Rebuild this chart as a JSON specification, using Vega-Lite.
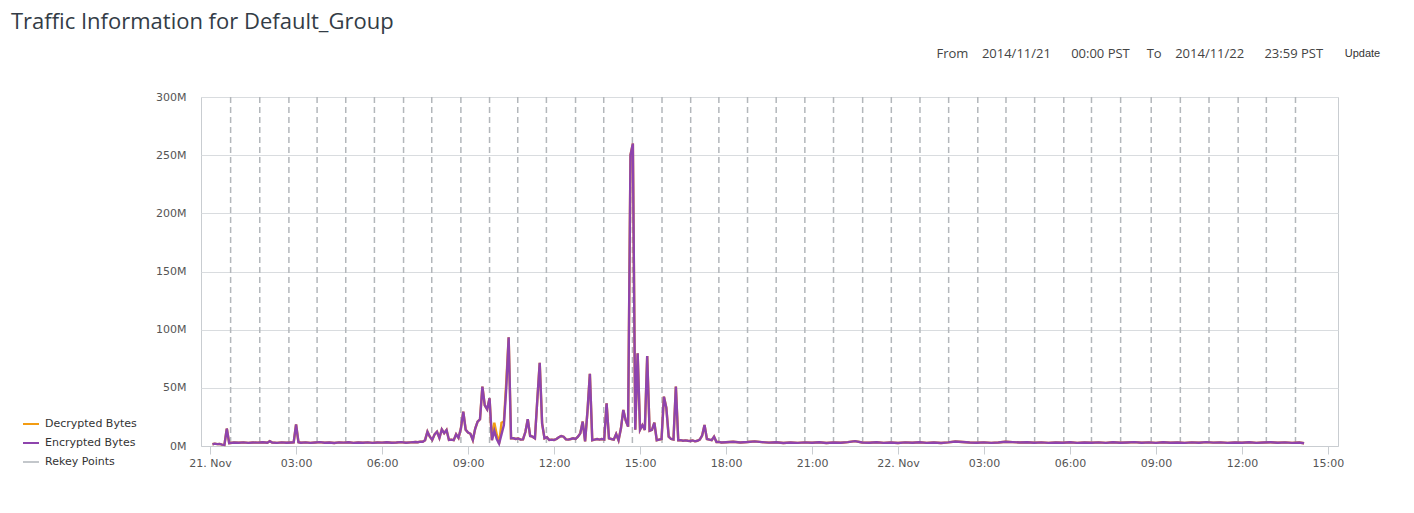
{
  "$schema": "https://vega.github.io/schema/vega-lite/v6.json",
  "width": 1137,
  "height": 349,
  "autosize": {"type": "none"},
  "padding": {"left": 201, "top": 97, "right": 76, "bottom": 67},
  "background": "white",
  "title": {
    "text": "Traffic Information for Default_Group",
    "anchor": "start",
    "frame": "group",
    "dx": -190,
    "offset": 13,
    "font": "Open Sans",
    "fontSize": 22,
    "fontWeight": "normal",
    "color": "#333c46"
  },
  "config": {
    "view": {"stroke": "#c9cdd1", "strokeWidth": 1},
    "axis": {"labelFont": "DejaVu Sans", "labelFontSize": 11, "labelColor": "#555555"}
  },
  "layer": [
    {
      "data": {
        "values": [
          {"t": "2014-11-21T00:43"}, {"t": "2014-11-21T01:44"}, {"t": "2014-11-21T02:45"}, {"t": "2014-11-21T03:44"},
          {"t": "2014-11-21T04:44"}, {"t": "2014-11-21T05:44"}, {"t": "2014-11-21T06:45"}, {"t": "2014-11-21T07:44"},
          {"t": "2014-11-21T08:45"}, {"t": "2014-11-21T09:45"}, {"t": "2014-11-21T10:44"}, {"t": "2014-11-21T11:44"},
          {"t": "2014-11-21T12:45"}, {"t": "2014-11-21T13:44"}, {"t": "2014-11-21T14:44"}, {"t": "2014-11-21T15:46"},
          {"t": "2014-11-21T16:46"}, {"t": "2014-11-21T17:45"}, {"t": "2014-11-21T18:45"}, {"t": "2014-11-21T19:45"},
          {"t": "2014-11-21T20:45"}, {"t": "2014-11-21T21:45"}, {"t": "2014-11-21T22:46"}, {"t": "2014-11-21T23:46"},
          {"t": "2014-11-22T00:46"}, {"t": "2014-11-22T01:46"}, {"t": "2014-11-22T02:47"}, {"t": "2014-11-22T03:46"},
          {"t": "2014-11-22T04:46"}, {"t": "2014-11-22T05:47"}, {"t": "2014-11-22T06:45"}, {"t": "2014-11-22T07:46"},
          {"t": "2014-11-22T08:50"}, {"t": "2014-11-22T09:51"}, {"t": "2014-11-22T10:51"}, {"t": "2014-11-22T11:52"},
          {"t": "2014-11-22T12:51"}, {"t": "2014-11-22T13:52"}
        ]
      },
      "mark": {"type": "rule", "strokeDash": [6, 4], "strokeWidth": 1.5, "color": "#b3b7bb"},
      "encoding": {
        "x": {"field": "t", "type": "temporal"}
      }
    },
    {
      "data": {
        "values": [
          {"t": "2014-11-21T00:05", "e": 1.5, "d": 1.5}, {"t": "2014-11-21T00:10", "e": 2.0, "d": 2.0},
          {"t": "2014-11-21T00:15", "e": 1.6, "d": 1.6}, {"t": "2014-11-21T00:20", "e": 1.8, "d": 1.8},
          {"t": "2014-11-21T00:25", "e": 1.2, "d": 1.2}, {"t": "2014-11-21T00:30", "e": 1.0, "d": 1.0},
          {"t": "2014-11-21T00:35", "e": 15, "d": 15}, {"t": "2014-11-21T00:40", "e": 2.5, "d": 2.5},
          {"t": "2014-11-21T00:50", "e": 3.0, "d": 3.0}, {"t": "2014-11-21T01:00", "e": 2.8, "d": 2.8},
          {"t": "2014-11-21T01:10", "e": 3.1, "d": 3.1}, {"t": "2014-11-21T01:20", "e": 2.7, "d": 2.7},
          {"t": "2014-11-21T01:30", "e": 3.0, "d": 3.0}, {"t": "2014-11-21T01:40", "e": 2.9, "d": 2.9},
          {"t": "2014-11-21T01:50", "e": 3.2, "d": 3.2}, {"t": "2014-11-21T02:00", "e": 2.8, "d": 2.8},
          {"t": "2014-11-21T02:05", "e": 4.2, "d": 4.2}, {"t": "2014-11-21T02:10", "e": 3.0, "d": 3.0},
          {"t": "2014-11-21T02:20", "e": 2.7, "d": 2.7}, {"t": "2014-11-21T02:30", "e": 3.1, "d": 3.1},
          {"t": "2014-11-21T02:40", "e": 2.8, "d": 2.8}, {"t": "2014-11-21T02:50", "e": 3.0, "d": 3.0},
          {"t": "2014-11-21T02:55", "e": 3.1, "d": 3.1}, {"t": "2014-11-21T03:00", "e": 18.5, "d": 18.5},
          {"t": "2014-11-21T03:05", "e": 3.2, "d": 3.2}, {"t": "2014-11-21T03:10", "e": 2.8, "d": 2.8},
          {"t": "2014-11-21T03:20", "e": 3.1, "d": 3.1}, {"t": "2014-11-21T03:30", "e": 2.7, "d": 2.7},
          {"t": "2014-11-21T03:40", "e": 3.0, "d": 3.0}, {"t": "2014-11-21T03:50", "e": 3.3, "d": 3.3},
          {"t": "2014-11-21T04:00", "e": 2.8, "d": 2.8}, {"t": "2014-11-21T04:10", "e": 3.0, "d": 3.0},
          {"t": "2014-11-21T04:20", "e": 2.6, "d": 2.6}, {"t": "2014-11-21T04:30", "e": 3.1, "d": 3.1},
          {"t": "2014-11-21T04:40", "e": 2.9, "d": 2.9}, {"t": "2014-11-21T04:50", "e": 3.2, "d": 3.2},
          {"t": "2014-11-21T05:00", "e": 2.7, "d": 2.7}, {"t": "2014-11-21T05:10", "e": 3.0, "d": 3.0},
          {"t": "2014-11-21T05:20", "e": 2.8, "d": 2.8}, {"t": "2014-11-21T05:30", "e": 3.1, "d": 3.1},
          {"t": "2014-11-21T05:40", "e": 2.7, "d": 2.7}, {"t": "2014-11-21T05:50", "e": 3.0, "d": 3.0},
          {"t": "2014-11-21T06:00", "e": 2.9, "d": 2.9}, {"t": "2014-11-21T06:10", "e": 3.2, "d": 3.2},
          {"t": "2014-11-21T06:20", "e": 2.8, "d": 2.8}, {"t": "2014-11-21T06:30", "e": 3.0, "d": 3.0},
          {"t": "2014-11-21T06:40", "e": 3.3, "d": 3.3}, {"t": "2014-11-21T06:50", "e": 2.8, "d": 2.8},
          {"t": "2014-11-21T07:00", "e": 3.1, "d": 3.1}, {"t": "2014-11-21T07:10", "e": 3.4, "d": 3.4},
          {"t": "2014-11-21T07:15", "e": 3.2, "d": 3.2}, {"t": "2014-11-21T07:20", "e": 3.7, "d": 3.7},
          {"t": "2014-11-21T07:25", "e": 3.7, "d": 3.7}, {"t": "2014-11-21T07:30", "e": 5, "d": 5},
          {"t": "2014-11-21T07:35", "e": 12.3, "d": 12.3}, {"t": "2014-11-21T07:40", "e": 8, "d": 8},
          {"t": "2014-11-21T07:45", "e": 5.2, "d": 5.2}, {"t": "2014-11-21T07:50", "e": 10, "d": 10},
          {"t": "2014-11-21T07:55", "e": 12.3, "d": 12.3}, {"t": "2014-11-21T08:00", "e": 6.9, "d": 6.9},
          {"t": "2014-11-21T08:05", "e": 14.3, "d": 14.3}, {"t": "2014-11-21T08:10", "e": 11, "d": 11},
          {"t": "2014-11-21T08:15", "e": 13.8, "d": 13.8}, {"t": "2014-11-21T08:20", "e": 5.2, "d": 5.2},
          {"t": "2014-11-21T08:25", "e": 5.5, "d": 5.5}, {"t": "2014-11-21T08:30", "e": 5, "d": 5},
          {"t": "2014-11-21T08:35", "e": 10, "d": 10}, {"t": "2014-11-21T08:40", "e": 7, "d": 7},
          {"t": "2014-11-21T08:45", "e": 15, "d": 15}, {"t": "2014-11-21T08:50", "e": 29.5, "d": 29.5},
          {"t": "2014-11-21T08:55", "e": 14, "d": 14}, {"t": "2014-11-21T09:00", "e": 11.5, "d": 11.5},
          {"t": "2014-11-21T09:05", "e": 10.5, "d": 10.5}, {"t": "2014-11-21T09:10", "e": 5.2, "d": 5.2},
          {"t": "2014-11-21T09:15", "e": 15, "d": 15}, {"t": "2014-11-21T09:20", "e": 21, "d": 21},
          {"t": "2014-11-21T09:25", "e": 23, "d": 23}, {"t": "2014-11-21T09:30", "e": 51, "d": 51},
          {"t": "2014-11-21T09:35", "e": 35, "d": 35}, {"t": "2014-11-21T09:40", "e": 31.5, "d": 31.5},
          {"t": "2014-11-21T09:45", "e": 41, "d": 41}, {"t": "2014-11-21T09:50", "e": 5, "d": 5},
          {"t": "2014-11-21T09:55", "e": 13, "d": 20}, {"t": "2014-11-21T10:00", "e": 6, "d": 10},
          {"t": "2014-11-21T10:05", "e": 2, "d": 2}, {"t": "2014-11-21T10:10", "e": 10, "d": 20},
          {"t": "2014-11-21T10:15", "e": 18, "d": 21}, {"t": "2014-11-21T10:20", "e": 50, "d": 55},
          {"t": "2014-11-21T10:25", "e": 93.5, "d": 93.5}, {"t": "2014-11-21T10:30", "e": 6.6, "d": 6.6},
          {"t": "2014-11-21T10:35", "e": 6.6, "d": 6.6}, {"t": "2014-11-21T10:40", "e": 6, "d": 6},
          {"t": "2014-11-21T10:45", "e": 6.5, "d": 6.5}, {"t": "2014-11-21T10:50", "e": 5.5, "d": 5.5},
          {"t": "2014-11-21T10:55", "e": 5.7, "d": 5.7}, {"t": "2014-11-21T11:00", "e": 12, "d": 12},
          {"t": "2014-11-21T11:05", "e": 23, "d": 23}, {"t": "2014-11-21T11:10", "e": 8.6, "d": 8.6},
          {"t": "2014-11-21T11:15", "e": 8, "d": 8}, {"t": "2014-11-21T11:20", "e": 6.6, "d": 6.6},
          {"t": "2014-11-21T11:25", "e": 40, "d": 40}, {"t": "2014-11-21T11:30", "e": 71.6, "d": 71.6},
          {"t": "2014-11-21T11:35", "e": 19.5, "d": 19.5}, {"t": "2014-11-21T11:40", "e": 6.6, "d": 6.6},
          {"t": "2014-11-21T11:45", "e": 7.5, "d": 7.5}, {"t": "2014-11-21T11:50", "e": 5.2, "d": 5.2},
          {"t": "2014-11-21T11:55", "e": 5.5, "d": 5.5}, {"t": "2014-11-21T12:00", "e": 5.2, "d": 5.2},
          {"t": "2014-11-21T12:05", "e": 6, "d": 6}, {"t": "2014-11-21T12:10", "e": 7.5, "d": 7.5},
          {"t": "2014-11-21T12:15", "e": 8.6, "d": 8.6}, {"t": "2014-11-21T12:20", "e": 8, "d": 8},
          {"t": "2014-11-21T12:25", "e": 5.7, "d": 5.7}, {"t": "2014-11-21T12:30", "e": 5.5, "d": 5.5},
          {"t": "2014-11-21T12:35", "e": 6, "d": 6}, {"t": "2014-11-21T12:40", "e": 6.6, "d": 6.6},
          {"t": "2014-11-21T12:45", "e": 6, "d": 6}, {"t": "2014-11-21T12:50", "e": 8, "d": 8},
          {"t": "2014-11-21T12:55", "e": 10.9, "d": 10.9}, {"t": "2014-11-21T13:00", "e": 21, "d": 21},
          {"t": "2014-11-21T13:05", "e": 4, "d": 4}, {"t": "2014-11-21T13:10", "e": 30, "d": 30},
          {"t": "2014-11-21T13:15", "e": 62, "d": 62}, {"t": "2014-11-21T13:20", "e": 5, "d": 5},
          {"t": "2014-11-21T13:25", "e": 5.5, "d": 5.5}, {"t": "2014-11-21T13:30", "e": 6, "d": 6},
          {"t": "2014-11-21T13:35", "e": 5.5, "d": 5.5}, {"t": "2014-11-21T13:40", "e": 6, "d": 6},
          {"t": "2014-11-21T13:45", "e": 5.5, "d": 5.5}, {"t": "2014-11-21T13:50", "e": 36.7, "d": 36.7},
          {"t": "2014-11-21T13:55", "e": 6.6, "d": 6.6}, {"t": "2014-11-21T14:00", "e": 6, "d": 6},
          {"t": "2014-11-21T14:05", "e": 5.5, "d": 5.5}, {"t": "2014-11-21T14:10", "e": 10.3, "d": 10.3},
          {"t": "2014-11-21T14:15", "e": 5, "d": 5}, {"t": "2014-11-21T14:20", "e": 15, "d": 15},
          {"t": "2014-11-21T14:25", "e": 31, "d": 31}, {"t": "2014-11-21T14:30", "e": 22, "d": 22},
          {"t": "2014-11-21T14:35", "e": 16.6, "d": 16.6}, {"t": "2014-11-21T14:40", "e": 250, "d": 250},
          {"t": "2014-11-21T14:45", "e": 260, "d": 260}, {"t": "2014-11-21T14:50", "e": 14, "d": 14},
          {"t": "2014-11-21T14:55", "e": 79.7, "d": 79.7}, {"t": "2014-11-21T15:00", "e": 14, "d": 14},
          {"t": "2014-11-21T15:05", "e": 18, "d": 18}, {"t": "2014-11-21T15:10", "e": 13.8, "d": 13.8},
          {"t": "2014-11-21T15:15", "e": 77.4, "d": 77.4}, {"t": "2014-11-21T15:20", "e": 13, "d": 13},
          {"t": "2014-11-21T15:25", "e": 13.8, "d": 13.8}, {"t": "2014-11-21T15:30", "e": 20, "d": 20},
          {"t": "2014-11-21T15:35", "e": 5, "d": 5}, {"t": "2014-11-21T15:40", "e": 5.5, "d": 5.5},
          {"t": "2014-11-21T15:45", "e": 6, "d": 6}, {"t": "2014-11-21T15:50", "e": 42.4, "d": 42.4},
          {"t": "2014-11-21T15:55", "e": 33, "d": 33}, {"t": "2014-11-21T16:00", "e": 8, "d": 8},
          {"t": "2014-11-21T16:05", "e": 6, "d": 6}, {"t": "2014-11-21T16:10", "e": 5.5, "d": 5.5},
          {"t": "2014-11-21T16:15", "e": 51, "d": 51}, {"t": "2014-11-21T16:20", "e": 5, "d": 5},
          {"t": "2014-11-21T16:25", "e": 5, "d": 5}, {"t": "2014-11-21T16:30", "e": 4.5, "d": 4.5},
          {"t": "2014-11-21T16:35", "e": 4.8, "d": 4.8}, {"t": "2014-11-21T16:40", "e": 4.5, "d": 4.5},
          {"t": "2014-11-21T16:45", "e": 4.3, "d": 4.3}, {"t": "2014-11-21T16:50", "e": 4.8, "d": 4.8},
          {"t": "2014-11-21T16:55", "e": 4, "d": 4}, {"t": "2014-11-21T17:00", "e": 4.5, "d": 4.5},
          {"t": "2014-11-21T17:05", "e": 5.5, "d": 5.5}, {"t": "2014-11-21T17:10", "e": 9, "d": 9},
          {"t": "2014-11-21T17:15", "e": 18, "d": 18}, {"t": "2014-11-21T17:20", "e": 6, "d": 6},
          {"t": "2014-11-21T17:25", "e": 5.5, "d": 5.5}, {"t": "2014-11-21T17:30", "e": 5, "d": 5},
          {"t": "2014-11-21T17:35", "e": 8, "d": 8}, {"t": "2014-11-21T17:40", "e": 3.5, "d": 3.5},
          {"t": "2014-11-21T17:45", "e": 3.5, "d": 3.5}, {"t": "2014-11-21T17:50", "e": 3.0, "d": 3.0},
          {"t": "2014-11-21T18:00", "e": 3.2, "d": 3.2}, {"t": "2014-11-21T18:15", "e": 3.6, "d": 3.6},
          {"t": "2014-11-21T18:30", "e": 3.0, "d": 3.0}, {"t": "2014-11-21T18:45", "e": 3.4, "d": 3.4},
          {"t": "2014-11-21T19:00", "e": 4.0, "d": 4.0}, {"t": "2014-11-21T19:15", "e": 3.3, "d": 3.3},
          {"t": "2014-11-21T19:30", "e": 2.9, "d": 2.9}, {"t": "2014-11-21T19:45", "e": 3.2, "d": 3.2},
          {"t": "2014-11-21T20:00", "e": 2.6, "d": 2.6}, {"t": "2014-11-21T20:15", "e": 3.0, "d": 3.0},
          {"t": "2014-11-21T20:30", "e": 2.7, "d": 2.7}, {"t": "2014-11-21T20:45", "e": 3.1, "d": 3.1},
          {"t": "2014-11-21T21:00", "e": 2.8, "d": 2.8}, {"t": "2014-11-21T21:15", "e": 3.2, "d": 3.2},
          {"t": "2014-11-21T21:30", "e": 2.6, "d": 2.6}, {"t": "2014-11-21T21:45", "e": 3.0, "d": 3.0},
          {"t": "2014-11-21T22:00", "e": 2.8, "d": 2.8}, {"t": "2014-11-21T22:15", "e": 3.3, "d": 3.3},
          {"t": "2014-11-21T22:30", "e": 4.2, "d": 4.2}, {"t": "2014-11-21T22:45", "e": 3.0, "d": 3.0},
          {"t": "2014-11-21T23:00", "e": 2.8, "d": 2.8}, {"t": "2014-11-21T23:15", "e": 3.2, "d": 3.2},
          {"t": "2014-11-21T23:30", "e": 2.7, "d": 2.7}, {"t": "2014-11-21T23:45", "e": 3.0, "d": 3.0},
          {"t": "2014-11-22T00:00", "e": 2.6, "d": 2.6}, {"t": "2014-11-22T00:15", "e": 3.1, "d": 3.1},
          {"t": "2014-11-22T00:30", "e": 2.8, "d": 2.8}, {"t": "2014-11-22T00:45", "e": 3.2, "d": 3.2},
          {"t": "2014-11-22T01:00", "e": 2.7, "d": 2.7}, {"t": "2014-11-22T01:15", "e": 3.0, "d": 3.0},
          {"t": "2014-11-22T01:30", "e": 2.6, "d": 2.6}, {"t": "2014-11-22T01:45", "e": 3.1, "d": 3.1},
          {"t": "2014-11-22T02:00", "e": 3.9, "d": 3.9}, {"t": "2014-11-22T02:15", "e": 3.4, "d": 3.4},
          {"t": "2014-11-22T02:30", "e": 3.0, "d": 3.0}, {"t": "2014-11-22T02:45", "e": 2.8, "d": 2.8},
          {"t": "2014-11-22T03:00", "e": 3.1, "d": 3.1}, {"t": "2014-11-22T03:15", "e": 2.7, "d": 2.7},
          {"t": "2014-11-22T03:30", "e": 3.0, "d": 3.0}, {"t": "2014-11-22T03:45", "e": 3.6, "d": 3.6},
          {"t": "2014-11-22T04:00", "e": 3.3, "d": 3.3}, {"t": "2014-11-22T04:15", "e": 3.0, "d": 3.0},
          {"t": "2014-11-22T04:30", "e": 3.2, "d": 3.2}, {"t": "2014-11-22T04:45", "e": 2.8, "d": 2.8},
          {"t": "2014-11-22T05:00", "e": 3.1, "d": 3.1}, {"t": "2014-11-22T05:15", "e": 2.7, "d": 2.7},
          {"t": "2014-11-22T05:30", "e": 3.0, "d": 3.0}, {"t": "2014-11-22T05:45", "e": 2.8, "d": 2.8},
          {"t": "2014-11-22T06:00", "e": 3.2, "d": 3.2}, {"t": "2014-11-22T06:15", "e": 2.7, "d": 2.7},
          {"t": "2014-11-22T06:30", "e": 3.0, "d": 3.0}, {"t": "2014-11-22T06:45", "e": 2.8, "d": 2.8},
          {"t": "2014-11-22T07:00", "e": 3.1, "d": 3.1}, {"t": "2014-11-22T07:15", "e": 2.7, "d": 2.7},
          {"t": "2014-11-22T07:30", "e": 3.2, "d": 3.2}, {"t": "2014-11-22T07:45", "e": 2.8, "d": 2.8},
          {"t": "2014-11-22T08:00", "e": 3.0, "d": 3.0}, {"t": "2014-11-22T08:15", "e": 3.3, "d": 3.3},
          {"t": "2014-11-22T08:30", "e": 2.8, "d": 2.8}, {"t": "2014-11-22T08:45", "e": 3.1, "d": 3.1},
          {"t": "2014-11-22T09:00", "e": 2.7, "d": 2.7}, {"t": "2014-11-22T09:15", "e": 3.2, "d": 3.2},
          {"t": "2014-11-22T09:30", "e": 2.8, "d": 2.8}, {"t": "2014-11-22T09:45", "e": 3.0, "d": 3.0},
          {"t": "2014-11-22T10:00", "e": 2.7, "d": 2.7}, {"t": "2014-11-22T10:15", "e": 3.1, "d": 3.1},
          {"t": "2014-11-22T10:30", "e": 2.8, "d": 2.8}, {"t": "2014-11-22T10:45", "e": 3.3, "d": 3.3},
          {"t": "2014-11-22T11:00", "e": 2.9, "d": 2.9}, {"t": "2014-11-22T11:15", "e": 3.1, "d": 3.1},
          {"t": "2014-11-22T11:30", "e": 2.7, "d": 2.7}, {"t": "2014-11-22T11:45", "e": 3.0, "d": 3.0},
          {"t": "2014-11-22T12:00", "e": 2.8, "d": 2.8}, {"t": "2014-11-22T12:15", "e": 3.2, "d": 3.2},
          {"t": "2014-11-22T12:30", "e": 2.7, "d": 2.7}, {"t": "2014-11-22T12:45", "e": 3.0, "d": 3.0},
          {"t": "2014-11-22T13:00", "e": 3.2, "d": 3.2}, {"t": "2014-11-22T13:15", "e": 2.8, "d": 2.8},
          {"t": "2014-11-22T13:30", "e": 3.1, "d": 3.1}, {"t": "2014-11-22T13:45", "e": 2.7, "d": 2.7},
          {"t": "2014-11-22T14:00", "e": 3.0, "d": 3.0}, {"t": "2014-11-22T14:10", "e": 2.4, "d": 2.4}
        ]
      },
      "transform": [{"fold": ["d", "e"], "as": ["s", "v"]}],
      "mark": {"type": "line", "strokeWidth": 2.4},
      "encoding": {
        "x": {
          "field": "t",
          "type": "temporal",
          "scale": {
            "domain": [
              {"year": 2014, "month": 11, "date": 20, "hours": 23, "minutes": 41},
              {"year": 2014, "month": 11, "date": 22, "hours": 15, "minutes": 21}
            ]
          },
          "axis": {
            "values": [
              {"year": 2014, "month": 11, "date": 21, "hours": 0},
              {"year": 2014, "month": 11, "date": 21, "hours": 3},
              {"year": 2014, "month": 11, "date": 21, "hours": 6},
              {"year": 2014, "month": 11, "date": 21, "hours": 9},
              {"year": 2014, "month": 11, "date": 21, "hours": 12},
              {"year": 2014, "month": 11, "date": 21, "hours": 15},
              {"year": 2014, "month": 11, "date": 21, "hours": 18},
              {"year": 2014, "month": 11, "date": 21, "hours": 21},
              {"year": 2014, "month": 11, "date": 22, "hours": 0},
              {"year": 2014, "month": 11, "date": 22, "hours": 3},
              {"year": 2014, "month": 11, "date": 22, "hours": 6},
              {"year": 2014, "month": 11, "date": 22, "hours": 9},
              {"year": 2014, "month": 11, "date": 22, "hours": 12},
              {"year": 2014, "month": 11, "date": 22, "hours": 15}
            ],
            "labelExpr": "hours(datum.value) == 0 ? timeFormat(datum.value, '%d. %b') : timeFormat(datum.value, '%H:%M')",
            "grid": false,
            "domainColor": "#c9cdd1",
            "tickColor": "#c9cdd1",
            "tickSize": 8,
            "labelPadding": 3,
            "labelFlush": false,
            "labelOverlap": false,
            "title": "Update",
            "titleX": 1161,
            "titleY": -393,
            "titleAlign": "center",
            "titleBaseline": "middle",
            "titleFont": "Liberation Sans",
            "titleFontSize": 11,
            "titleFontWeight": "normal",
            "titleColor": "#333333"
          }
        },
        "y": {
          "field": "v",
          "type": "quantitative",
          "scale": {"domain": [0, 300], "nice": false},
          "axis": {
            "values": [0, 50, 100, 150, 200, 250, 300],
            "labelExpr": "datum.value + 'M'",
            "grid": true,
            "gridColor": "#d9dcdf",
            "domain": false,
            "ticks": false,
            "labelPadding": 15,
            "title": "From\u00a0\u00a0\u00a0\u00a02014/11/21\u00a0\u00a0\u00a0\u00a0\u00a0\u00a000:00 PST\u00a0\u00a0\u00a0\u00a0\u00a0To\u00a0\u00a0\u00a0\u00a02014/11/22\u00a0\u00a0\u00a0\u00a0\u00a0\u00a023:59 PST",
            "titleAngle": 0,
            "titleX": 735,
            "titleY": -44,
            "titleAlign": "left",
            "titleBaseline": "middle",
            "titleFont": "Open Sans",
            "titleFontSize": 13,
            "titleFontWeight": "normal",
            "titleColor": "#444444"
          }
        },
        "color": {
          "field": "s",
          "type": "nominal",
          "scale": {"domain": ["d", "e", "rekey"], "range": ["#f39c12", "#8e44ad", "#c3c7cb"]},
          "legend": {
            "orient": "none",
            "legendX": -179,
            "legendY": 318,
            "direction": "vertical",
            "title": null,
            "symbolType": "stroke",
            "symbolSize": 256,
            "symbolStrokeWidth": 2,
            "labelFont": "DejaVu Sans",
            "labelFontSize": 11,
            "labelColor": "#333333",
            "labelOffset": 5,
            "rowPadding": 5,
            "labelExpr": "datum.label == 'd' ? 'Decrypted Bytes' : datum.label == 'e' ? 'Encrypted Bytes' : 'Rekey Points'"
          }
        }
      }
    }
  ]
}
